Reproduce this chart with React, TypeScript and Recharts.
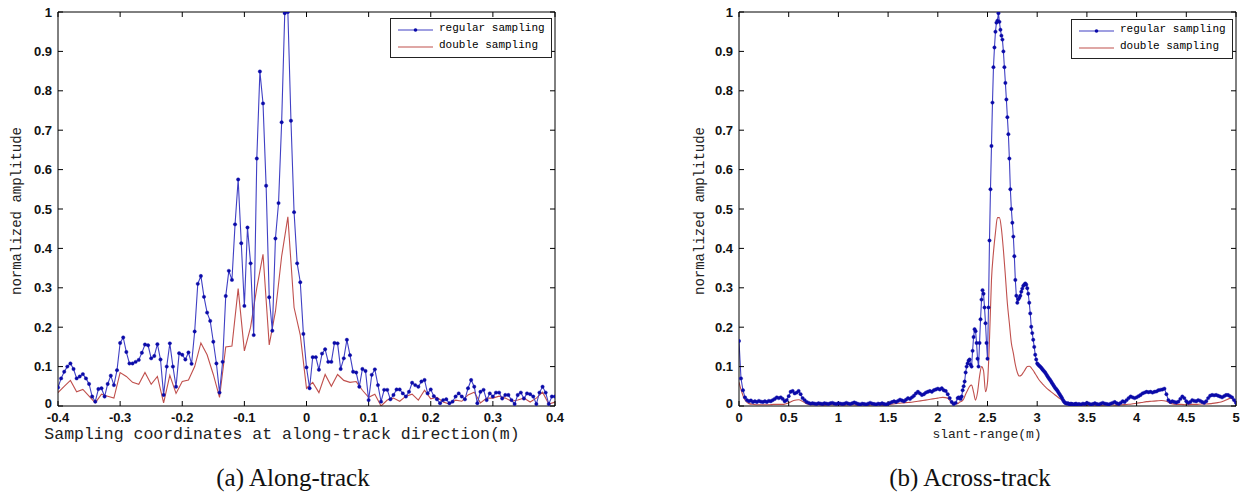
import { LineChart, Line, XAxis, YAxis } from 'recharts'

const alongTicks = [-0.4, -0.3, -0.2, -0.1, 0, 0.1, 0.2, 0.3, 0.4]
const acrossTicks = [0, 0.5, 1, 1.5, 2, 2.5, 3, 3.5, 4, 4.5, 5]
const ampTicks = [0, 0.1, 0.2, 0.3, 0.4, 0.5, 0.6, 0.7, 0.8, 0.9, 1]

// along-track, regular sampling: -0.4 .. 0.4 m every 0.005 m (one row = 0.05 m)
const alongRegular = [
  0.047, 0.07, 0.087, 0.1, 0.108, 0.094, 0.07, 0.075, 0.081, 0.07,
  0.056, 0.024, 0.011, 0.043, 0.045, 0.024, 0.056, 0.077, 0.053, 0.091,
  0.16, 0.174, 0.137, 0.108, 0.108, 0.112, 0.117, 0.135, 0.156, 0.154,
  0.121, 0.127, 0.157, 0.118, 0.028, 0.1, 0.159, 0.1, 0.049, 0.134,
  0.13, 0.118, 0.136, 0.107, 0.189, 0.31, 0.33, 0.277, 0.237, 0.216,
  0.163, 0.108, 0.034, 0.112, 0.279, 0.343, 0.32, 0.461, 0.575, 0.413,
  0.254, 0.453, 0.362, 0.18, 0.628, 0.849, 0.768, 0.559, 0.276, 0.191,
  0.425, 0.515, 0.72, 0.997, 1.0, 0.724, 0.492, 0.362, 0.314, 0.183,
  0.098, 0.045, 0.124, 0.124, 0.092, 0.133, 0.144, 0.112, 0.112, 0.16,
  0.159, 0.094, 0.121, 0.168, 0.129, 0.087, 0.085, 0.049, 0.094, 0.089,
  0.015, 0.079, 0.093, 0.053, 0.011, 0.041, 0.041, 0.017, 0.028, 0.042,
  0.042, 0.032, 0.024, 0.036, 0.059, 0.053, 0.049, 0.062, 0.066, 0.032,
  0.042, 0.025, 0.017, 0.007, 0.015, 0.017, 0.007, 0.011, 0.024, 0.032,
  0.024, 0.017, 0.045, 0.066, 0.049, 0.007, 0.036, 0.041, 0.015, 0.032,
  0.024, 0.034, 0.034, 0.019, 0.028, 0.028, 0.015, 0.005, 0.028, 0.034,
  0.019, 0.032, 0.03, 0.024, 0.005, 0.034, 0.049, 0.034, 0.005, 0.024,
  0.024,
]

// along-track, double sampling: every 0.01 m (one row = 0.1 m)
const alongDouble = [
  0.034, 0.05, 0.065, 0.036, 0.042, 0.025, 0.008, 0.03, 0.025, 0.02,
  0.085, 0.075, 0.06, 0.055, 0.085, 0.055, 0.075, 0.008, 0.078, 0.032,
  0.062, 0.066, 0.1, 0.16, 0.13, 0.08, 0.022, 0.15, 0.152, 0.298,
  0.14, 0.2, 0.3, 0.385, 0.155, 0.24, 0.38, 0.48, 0.25, 0.18,
  0.045, 0.06, 0.034, 0.08, 0.05, 0.08, 0.065, 0.06, 0.062, 0.04,
  0.022, 0.03, 0.0, 0.015, 0.02, 0.012, 0.025, 0.03, 0.015, 0.04,
  0.018, 0.022, 0.01, 0.005, 0.015, 0.012, 0.028, 0.035, 0.008, 0.02,
  0.02, 0.025, 0.02, 0.012, 0.015, 0.02, 0.01, 0.02, 0.035, 0.005,
  0.01,
]

// across-track, regular sampling
// 0 .. 2.2 m every 0.02 m
const acrossRegularLow = [
  0.165, 0.07, 0.04, 0.022, 0.015, 0.012, 0.014, 0.01, 0.012, 0.01,
  0.013, 0.011, 0.01, 0.012, 0.01, 0.013, 0.012, 0.015, 0.018, 0.022,
  0.02, 0.022, 0.018, 0.012, 0.015, 0.025, 0.036, 0.038, 0.032, 0.034,
  0.038, 0.03, 0.02, 0.015, 0.01, 0.008, 0.006, 0.007, 0.006, 0.005,
  0.007, 0.006, 0.005, 0.007, 0.006, 0.005, 0.007, 0.008, 0.006, 0.005,
  0.007, 0.006, 0.005, 0.006, 0.008, 0.006, 0.005, 0.007, 0.009, 0.007,
  0.005, 0.004, 0.006, 0.005, 0.004, 0.006, 0.008, 0.006, 0.005, 0.004,
  0.006, 0.005, 0.007, 0.005, 0.004, 0.006, 0.008, 0.01, 0.012, 0.01,
  0.013, 0.016, 0.014, 0.012, 0.016, 0.02, 0.018, 0.022, 0.026, 0.032,
  0.036, 0.032, 0.028, 0.03, 0.034, 0.036, 0.038, 0.036, 0.04, 0.042,
  0.044, 0.042, 0.045, 0.04, 0.038, 0.03, 0.02, 0.01, 0.005, 0.008,
  0.02,
]
// 2.21 .. 3.40 m every 0.01 m
const acrossRegularPeak = [
  0.022, 0.02, 0.018, 0.024, 0.04, 0.05, 0.062, 0.085, 0.1, 0.108,
  0.115, 0.118, 0.105, 0.1, 0.14, 0.175, 0.195, 0.19, 0.16, 0.12,
  0.1, 0.16, 0.22, 0.27, 0.294, 0.285, 0.25, 0.21, 0.16, 0.12,
  0.25, 0.42, 0.55, 0.66, 0.77, 0.86, 0.91, 0.95, 0.973, 0.978,
  0.997, 0.975, 0.955, 0.94, 0.93, 0.9, 0.86, 0.82, 0.778, 0.733,
  0.69, 0.628, 0.55, 0.5, 0.465, 0.43, 0.38, 0.32, 0.28, 0.262,
  0.271, 0.275, 0.28, 0.29, 0.298, 0.305, 0.308, 0.311, 0.308, 0.299,
  0.285, 0.262, 0.235, 0.201, 0.185, 0.168, 0.15, 0.13, 0.118, 0.108,
  0.105, 0.102, 0.1, 0.097, 0.094, 0.091, 0.088, 0.085, 0.081, 0.077,
  0.073, 0.069, 0.066, 0.062, 0.058, 0.054, 0.05, 0.046, 0.043, 0.04,
  0.036, 0.032, 0.028, 0.024, 0.02, 0.015, 0.011, 0.008, 0.007, 0.006,
  0.007, 0.005, 0.004, 0.006, 0.005, 0.004, 0.003, 0.005, 0.006, 0.004,
]
// 3.42 .. 5.00 m every 0.02 m
const acrossRegularHigh = [
  0.005, 0.004, 0.006, 0.005, 0.008, 0.006, 0.004, 0.005, 0.007, 0.005,
  0.004, 0.006, 0.008, 0.006, 0.005, 0.004, 0.006, 0.008, 0.01, 0.007,
  0.005, 0.008, 0.012, 0.01, 0.015, 0.02, 0.024, 0.022, 0.02, 0.022,
  0.025, 0.028, 0.032, 0.034, 0.036, 0.035, 0.036, 0.034, 0.036, 0.037,
  0.04, 0.041, 0.042, 0.044, 0.03, 0.015, 0.01, 0.012, 0.01, 0.009,
  0.011, 0.018, 0.024, 0.02, 0.012, 0.008, 0.01, 0.015, 0.013, 0.012,
  0.015, 0.013, 0.01, 0.008, 0.012, 0.02, 0.026, 0.028, 0.027, 0.028,
  0.026, 0.024, 0.022, 0.025, 0.028, 0.028, 0.025, 0.022, 0.015, 0.008,
]

// across-track, double sampling
// 0 .. 2.2 m every 0.05 m
const acrossDoubleLow = [
  0.06, 0.02, 0.006, 0.004, 0.003, 0.003, 0.003, 0.004, 0.004, 0.004,
  0.008, 0.014, 0.016, 0.01, 0.004, 0.003, 0.003, 0.002, 0.003, 0.003,
  0.003, 0.002, 0.003, 0.003, 0.002, 0.003, 0.002, 0.003, 0.003, 0.002,
  0.003, 0.005, 0.007, 0.008, 0.009, 0.01, 0.012, 0.014, 0.016, 0.018,
  0.02, 0.022, 0.02, 0.005, 0.006,
]
// 2.22 .. 3.40 m every 0.02 m
const acrossDoublePeak = [
  0.01, 0.012, 0.018, 0.03, 0.04, 0.05, 0.053, 0.035, 0.015, 0.035,
  0.075, 0.1, 0.09, 0.036, 0.06, 0.168, 0.32, 0.39, 0.44, 0.478,
  0.478, 0.45, 0.396, 0.33, 0.26, 0.21, 0.16, 0.134, 0.105, 0.085,
  0.076, 0.078, 0.085, 0.093, 0.1, 0.101, 0.097, 0.09, 0.082, 0.074,
  0.066, 0.06, 0.054, 0.049, 0.044, 0.04, 0.036, 0.032, 0.028, 0.024,
  0.02, 0.017, 0.013, 0.009, 0.006, 0.004, 0.003, 0.002, 0.002, 0.002,
]
// 3.45 .. 5.00 m every 0.05 m
const acrossDoubleHigh = [
  0.002, 0.002, 0.003, 0.002, 0.002, 0.003, 0.003, 0.002, 0.003, 0.004,
  0.005, 0.007, 0.009, 0.011, 0.012, 0.013, 0.014, 0.012, 0.006, 0.004,
  0.004, 0.003, 0.004, 0.004, 0.005, 0.005, 0.006, 0.008, 0.01, 0.015,
  0.02, 0.005,
]

type Pt = { x: number; y: number }

// turn an evenly spaced run of samples into {x, y} points
function run(start: number, step: number, ys: number[]): Pt[] {
  return ys.map((y, i) => ({ x: +(start + i * step).toFixed(3), y }))
}

const alongRegularPts = run(-0.4, 0.005, alongRegular)
const alongDoublePts = run(-0.4, 0.01, alongDouble)
const acrossRegularPts = [
  ...run(0, 0.02, acrossRegularLow),
  ...run(2.21, 0.01, acrossRegularPeak),
  ...run(3.42, 0.02, acrossRegularHigh),
]
const acrossDoublePts = [
  ...run(0, 0.05, acrossDoubleLow),
  ...run(2.22, 0.02, acrossDoublePeak),
  ...run(3.45, 0.05, acrossDoubleHigh),
]

const BLUE_LINE = '#4040c4'
const BLUE_DOT = '#0a0aa8'
const RED = '#c0504d'
const MONO = '"Liberation Mono", "DejaVu Sans Mono", monospace'
const TICK_FONT = '"Liberation Sans", Arial, sans-serif'
const TICK = { fill: '#111', fontSize: 13, fontWeight: 700, fontFamily: TICK_FONT }

// y tick label; the "0" sits a touch higher so it clears the first x label
function AmpTick(props: any) {
  const { x, y, payload } = props
  const lift = payload.value === 0 ? -3 : 0
  return (
    <text x={x} y={y + lift} dy="0.355em" textAnchor="end" fill="#111"
      fontSize={13} fontWeight={700} fontFamily={TICK_FONT}>
      {String(payload.value)}
    </text>
  )
}

interface PanelProps {
  left: number
  width: number
  plotLeft: number
  plotRight: number
  domain: [number, number]
  ticks: number[]
  regular: Pt[]
  double: Pt[]
  smooth: boolean
}

// plot box: top 12, bottom 406 (page coords); axes take 30px left, 20px bottom, 1px top/right
function Panel({ left, width, plotLeft, plotRight, domain, ticks, regular, double, smooth }: PanelProps) {
  const fmt = (v: number) => String(v)
  const blank = () => ''
  const margin = { top: 11, bottom: 430 - 406 - 20, left: plotLeft - 30, right: width - plotRight - 1 }
  return (
    <div style={{ position: 'absolute', left, top: 0 }}>
      <LineChart width={width} height={430} margin={margin}>
        <XAxis xAxisId="b" type="number" dataKey="x" domain={domain} ticks={ticks}
          allowDataOverflow height={20} tickSize={-5} tickMargin={12}
          tickFormatter={fmt} tick={TICK} stroke="#000" interval={0} />
        <XAxis xAxisId="t" orientation="top" type="number" dataKey="x" domain={domain} ticks={ticks}
          allowDataOverflow height={1} tickSize={-5} tickFormatter={blank} stroke="#000" interval={0} />
        <YAxis yAxisId="l" type="number" domain={[0, 1]} ticks={ampTicks} allowDataOverflow
          width={30} tickSize={-5} tickMargin={11} tick={<AmpTick />} stroke="#000" interval={0} />
        <YAxis yAxisId="r" orientation="right" type="number" domain={[0, 1]} ticks={ampTicks}
          allowDataOverflow width={1} tickSize={-5} tickFormatter={blank} stroke="#000" interval={0} />
        <Line xAxisId="b" yAxisId="l" data={double} dataKey="y" type={smooth ? 'monotone' : 'linear'}
          stroke={RED} strokeWidth={1.1} dot={false} isAnimationActive={false} />
        <Line xAxisId="b" yAxisId="l" data={regular} dataKey="y" type="linear"
          stroke={BLUE_LINE} strokeWidth={1.1}
          dot={{ r: 1.7, fill: BLUE_DOT, stroke: BLUE_DOT, strokeWidth: 0.4 }}
          isAnimationActive={false} />
      </LineChart>
    </div>
  )
}

function LegendBox({ left, top }: { left: number; top: number }) {
  return (
    <div style={{
      position: 'absolute', left, top, width: 160, height: 38, background: '#fff',
      border: '1px solid #222', fontFamily: MONO, fontSize: 11, color: '#000',
    }}>
      <svg width={44} height={38} style={{ position: 'absolute', left: 0, top: 0 }}>
        <line x1={7} x2={42} y1={11} y2={11} stroke={BLUE_LINE} strokeWidth={1.2} />
        <circle cx={24.5} cy={11} r={1.8} fill={BLUE_DOT} />
        <line x1={7} x2={42} y1={28} y2={28} stroke={RED} strokeWidth={1.2} />
      </svg>
      <div style={{ position: 'absolute', left: 48, top: 3, whiteSpace: 'nowrap' }}>regular sampling</div>
      <div style={{ position: 'absolute', left: 48, top: 20, whiteSpace: 'nowrap' }}>double sampling</div>
    </div>
  )
}

function Txt({ x, y, text, style, rotate }: { x: number; y: number; text: string; style: React.CSSProperties; rotate?: boolean }) {
  return (
    <div style={{
      position: 'absolute', left: x, top: y, whiteSpace: 'nowrap',
      transform: `translate(-50%, -50%)${rotate ? ' rotate(-90deg)' : ''}`, ...style,
    }}>{text}</div>
  )
}

export default function App() {
  const axisTitle: React.CSSProperties = { fontFamily: MONO, fontSize: 14, color: '#222' }
  const caption: React.CSSProperties = { fontFamily: '"Liberation Serif", "Times New Roman", serif', fontSize: 25, color: '#111' }
  return (
    <div style={{ position: 'absolute', left: 0, top: 0, width: 1245, height: 497, background: '#fff', overflow: 'hidden' }}>
      <Panel left={0} width={570} plotLeft={58} plotRight={555}
        domain={[-0.4, 0.4]} ticks={alongTicks} regular={alongRegularPts} double={alongDoublePts}
        smooth={false} />
      <Panel left={680} width={565} plotLeft={59} plotRight={556}
        domain={[0, 5]} ticks={acrossTicks} regular={acrossRegularPts} double={acrossDoublePts}
        smooth />
      <LegendBox left={390} top={18} />
      <LegendBox left={1071} top={19} />
      <Txt x={17} y={211} text="normalized amplitude" style={axisTitle} rotate />
      <Txt x={700} y={211} text="normalized amplitude" style={axisTitle} rotate />
      <Txt x={282} y={434} text="Sampling coordinates at along-track direction(m)" style={{ ...axisTitle, fontSize: 16.5 }} />
      <Txt x={987} y={434} text="slant-range(m)" style={{ ...axisTitle, fontSize: 13 }} />
      <Txt x={293} y={478} text="(a) Along-track" style={caption} />
      <Txt x={970} y={478} text="(b) Across-track" style={caption} />
    </div>
  )
}
